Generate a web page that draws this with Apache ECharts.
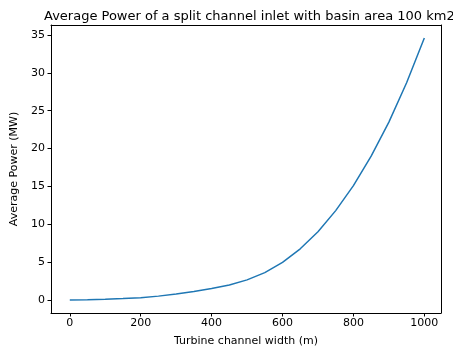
<!DOCTYPE html>
<html>
<head>
<meta charset="utf-8">
<script src="https://cdn.jsdelivr.net/npm/echarts@6/dist/echarts.min.js"></script>
<style>html,body{margin:0;padding:0;background:#fff}#c{width:453px;height:352px}</style>
</head>
<body>
<div id="c"></div>
<script>
const widths = [0, 50, 100, 150, 200, 250, 300, 350, 400, 450, 500, 550, 600, 650, 700, 750, 800, 850, 900, 950, 1000];
const power = [0, 0.02, 0.08, 0.17, 0.3, 0.5, 0.78, 1.1, 1.5, 1.98, 2.65, 3.6, 4.95, 6.75, 9.0, 11.8, 15.1, 19.0, 23.5, 28.7, 34.6];
const xTicks = [0, 200, 400, 600, 800, 1000];
const yTicks = [0, 5, 10, 15, 20, 25, 30, 35];

const font = 'DejaVu Sans';
const chart = echarts.init(document.getElementById('c'));
const hidden = {show: false};
chart.setOption({
  animation: false,
  title: {
    text: 'Average Power of a split channel inlet with basin area 100 km2',
    left: 39, top: 5,
    textStyle: {fontFamily: font, fontSize: 13, fontWeight: 'normal', color: '#000'}
  },
  grid: {left: 51, right: 12, top: 25, bottom: 39, containLabel: false},
  xAxis: [{
    type: 'value', min: -53, max: 1047,
    name: 'Turbine channel width (m)', nameLocation: 'middle', nameGap: 23,
    nameTextStyle: {fontFamily: font, fontSize: 11, color: '#000'},
    axisLine: {show: true, onZero: false, lineStyle: {color: '#000', width: 1}},
    axisTick: {show: true, length: 3.5, lineStyle: {color: '#000'}, customValues: xTicks},
    axisLabel: {fontFamily: font, fontSize: 11, color: '#000', margin: 5, customValues: xTicks,
      formatter: v => String(v)},
    splitLine: hidden
  }, {
    type: 'value', position: 'top', min: -53, max: 1047,
    axisLine: {show: true, onZero: false, lineStyle: {color: '#000', width: 1}},
    axisTick: hidden, axisLabel: hidden, splitLine: hidden
  }],
  yAxis: [{
    type: 'value', min: -1.73, max: 36.33,
    name: 'Average Power (MW)', nameLocation: 'middle', nameGap: 24,
    nameTextStyle: {fontFamily: font, fontSize: 11, color: '#000'},
    axisLine: {show: true, onZero: false, lineStyle: {color: '#000', width: 1}},
    axisTick: {show: true, length: 3.5, lineStyle: {color: '#000'}, customValues: yTicks},
    axisLabel: {fontFamily: font, fontSize: 11, color: '#000', margin: 6, customValues: yTicks,
      formatter: v => String(v)},
    splitLine: hidden
  }, {
    type: 'value', position: 'right', min: -1.73, max: 36.33,
    axisLine: {show: true, onZero: false, lineStyle: {color: '#000', width: 1}},
    axisTick: hidden, axisLabel: hidden, splitLine: hidden
  }],
  series: [{
    type: 'line',
    data: widths.map((w, i) => [w, power[i]]),
    showSymbol: false,
    lineStyle: {color: '#1f77b4', width: 1.5},
    itemStyle: {color: '#1f77b4'}
  }]
});
</script>
</body>
</html>
